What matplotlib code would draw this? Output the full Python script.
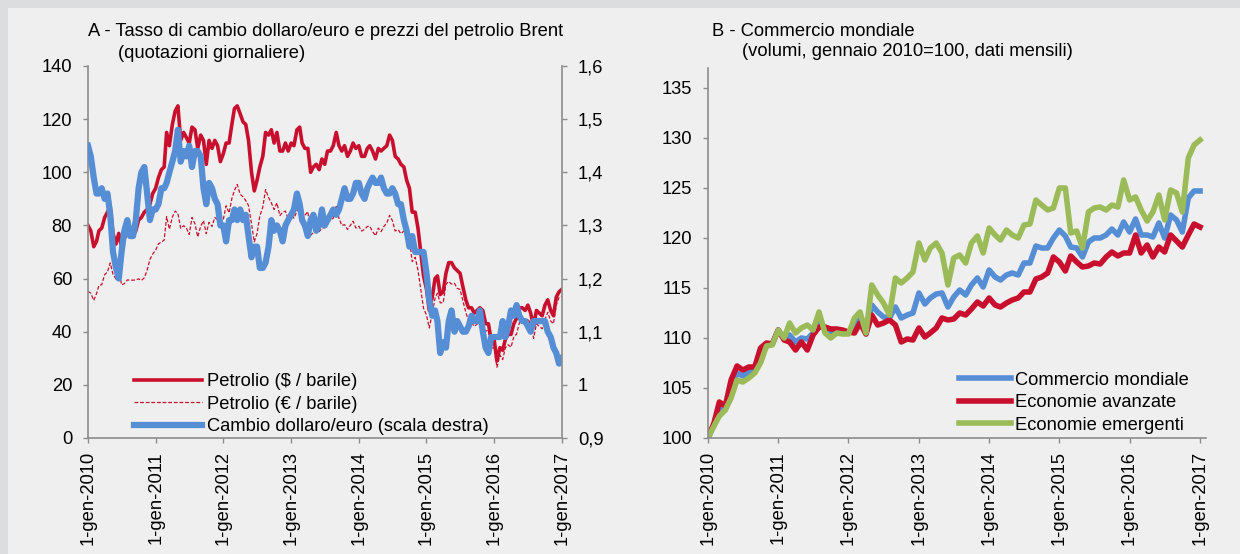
import matplotlib
matplotlib.use('Agg')
import matplotlib.pyplot as plt
from matplotlib.patches import Rectangle
import pandas as pd

plt.rcParams['font.family'] = ['Liberation Sans', 'DejaVu Sans']
plt.rcParams['font.size'] = 13.2

# ---- Panel A: Brent and EUR/USD, sampled on the 1st and 16th of each month ----
brent_usd = [
    80, 78, 72, 74, 78, 79, 83, 85, 87, 77, 73, 77, 72, 75, 78, 76, 76, 78, 82, 83, 85, 86, 88, 92,
    94, 98, 101, 102, 115, 110, 118, 123, 125, 112, 115, 113, 111, 117, 116, 109, 114, 112, 103, 112, 109, 112, 110, 104,
    107, 111, 111, 118, 124, 125, 122, 119, 118, 112, 100, 93, 97, 102, 106, 115, 114, 116, 111, 115, 108, 108, 111, 108,
    111, 110, 116, 117, 111, 109, 109, 100, 102, 103, 101, 105, 103, 108, 108, 110, 115, 110, 108, 110, 106, 108, 111, 109,
    110, 106, 106, 109, 110, 108, 105, 109, 108, 109, 110, 114, 112, 106, 105, 103, 102, 97, 94, 85, 85, 79, 70, 61,
    56, 48, 53, 60, 61, 54, 55, 62, 66, 66, 64, 63, 62, 57, 52, 49, 49, 47, 48, 49, 48, 43, 43, 37,
    37, 29, 34, 33, 37, 39, 39, 43, 45, 49, 49, 48, 50, 47, 42, 48, 47, 46, 50, 52, 48, 46, 53, 55,
    56,
]
brent_eur = [
    55.2, 54.5, 51.8, 54.4, 57.4, 57.7, 61.5, 62.5, 65.9, 61.6, 59.8, 64.2, 57.6, 58.1, 59.5, 59.4, 59.4, 59.5, 59.9, 59.3, 60.3, 63.2, 67.2, 69.2,
    70.7, 73.1, 73.7, 74.5, 83.3, 78.6, 83.1, 85.4, 84.5, 78.9, 79.9, 79.0, 76.6, 83.0, 80.6, 75.7, 79.7, 81.8, 76.9, 81.2, 79.6, 83.0, 82.1, 80.0,
    82.3, 87.4, 84.7, 90.1, 93.2, 95.4, 91.7, 90.8, 89.4, 87.5, 80.6, 73.8, 77.0, 83.6, 86.9, 93.5, 90.5, 88.5, 86.0, 88.5, 83.7, 85.0, 85.4, 82.4,
    84.1, 82.7, 85.3, 87.3, 84.7, 83.8, 85.2, 76.3, 77.3, 79.8, 77.7, 78.9, 79.2, 82.4, 81.8, 82.7, 87.1, 82.7, 80.0, 80.3, 78.5, 80.0, 81.6, 79.0,
    79.7, 77.9, 78.5, 79.6, 79.7, 77.7, 76.1, 79.0, 77.7, 79.6, 80.9, 83.8, 81.8, 77.9, 78.4, 76.9, 77.9, 75.2, 74.6, 66.4, 68.0, 63.2, 56.0, 48.8,
    46.3, 41.4, 46.9, 52.6, 54.5, 50.9, 50.9, 57.9, 58.9, 57.9, 58.2, 56.3, 55.9, 51.8, 47.3, 44.1, 43.4, 42.0, 42.9, 43.0, 43.6, 40.2, 40.6, 33.9,
    33.9, 26.6, 31.2, 29.5, 33.9, 35.1, 34.2, 38.1, 39.1, 43.4, 43.8, 42.9, 45.0, 42.7, 37.5, 42.9, 42.0, 41.1, 44.6, 47.3, 44.0, 43.0, 50.0, 52.9,
    53.3,
]
eur_usd = [
    1.45, 1.43, 1.39, 1.36, 1.36, 1.37, 1.35, 1.36, 1.32, 1.25, 1.22, 1.20, 1.25, 1.29, 1.31, 1.28, 1.28, 1.31, 1.37, 1.40, 1.41, 1.36, 1.31, 1.33,
    1.33, 1.34, 1.37, 1.37, 1.38, 1.40, 1.42, 1.44, 1.48, 1.42, 1.44, 1.43, 1.45, 1.41, 1.44, 1.44, 1.43, 1.37, 1.34, 1.38, 1.37, 1.35, 1.34, 1.30,
    1.30, 1.27, 1.31, 1.31, 1.33, 1.31, 1.33, 1.31, 1.32, 1.28, 1.24, 1.26, 1.26, 1.22, 1.22, 1.23, 1.26, 1.31, 1.29, 1.30, 1.29, 1.27, 1.30, 1.31,
    1.32, 1.33, 1.36, 1.34, 1.31, 1.30, 1.28, 1.31, 1.32, 1.29, 1.30, 1.33, 1.30, 1.31, 1.32, 1.33, 1.32, 1.33, 1.35, 1.37, 1.35, 1.35, 1.36, 1.38,
    1.38, 1.36, 1.35, 1.37, 1.38, 1.39, 1.38, 1.38, 1.39, 1.37, 1.36, 1.36, 1.37, 1.36, 1.34, 1.34, 1.31, 1.29, 1.26, 1.28, 1.25, 1.25, 1.25, 1.25,
    1.21, 1.16, 1.13, 1.14, 1.12, 1.06, 1.08, 1.07, 1.12, 1.14, 1.10, 1.12, 1.11, 1.10, 1.10, 1.11, 1.13, 1.12, 1.12, 1.14, 1.10, 1.07, 1.06, 1.09,
    1.09, 1.09, 1.09, 1.12, 1.09, 1.11, 1.14, 1.13, 1.15, 1.13, 1.12, 1.12, 1.11, 1.10, 1.12, 1.12, 1.12, 1.12, 1.12, 1.10, 1.09, 1.07, 1.06, 1.04,
    1.05,
]
dates_a = [pd.Timestamp(y, m, d) for y in range(2010, 2017) for m in range(1, 13) for d in (1, 16)]
dates_a.append(pd.Timestamp(2017, 1, 1))

# ---- Panel B: world trade volumes, monthly, Jan 2010 = 100 ----
world_trade = [
    100, 101.3, 103.0, 102.9, 105.0, 106.5, 106.2, 106.6, 106.8, 108.5, 109.4, 109.4,
    110.8, 109.9, 110.3, 109.6, 110.0, 109.9, 110.5, 111.5, 110.9, 110.6, 110.8, 110.7,
    110.5, 111.2, 111.9, 110.4, 113.3, 112.6, 112.1, 112.0, 113.1, 112.0, 112.3, 112.5,
    114.5, 113.4, 114.0, 114.4, 114.5, 113.1, 114.1, 114.8, 114.3, 115.3, 116.0, 115.1,
    116.8, 116.1, 115.8, 116.3, 116.5, 116.3, 117.5, 117.5, 119.2, 119.0, 119.0, 120.0,
    120.8, 120.2, 119.1, 119.0, 118.1, 119.6, 120.0, 120.0, 120.3, 120.9, 120.3, 121.6,
    120.6, 121.9, 120.3, 120.3, 120.1, 121.5, 120.0, 122.3, 121.8, 120.6, 124.0, 124.7,
    124.7,
]
advanced = [
    100, 101.5, 103.6, 103.2, 105.8, 107.2, 106.8, 107.1, 107.1, 109.0, 109.5, 109.4,
    110.8, 109.8, 109.6, 108.8, 109.6, 108.8, 110.3, 111.1, 111.1, 110.9, 110.9, 110.8,
    110.6, 110.5, 111.5, 110.4, 112.3, 111.3, 111.5, 111.8, 111.3, 109.6, 109.9, 109.8,
    111.0, 110.1, 110.5, 111.0, 112.0, 111.8, 111.9, 112.5, 112.3, 112.9, 113.6, 113.2,
    114.0, 113.3, 113.1, 113.5, 113.8, 114.0, 114.6, 114.6, 115.9, 116.1, 116.5, 118.1,
    117.6, 116.7, 118.2, 117.6, 117.1, 117.2, 117.5, 117.4, 118.1, 118.6, 118.2, 118.5,
    118.5, 120.3, 118.5, 119.3, 118.1, 119.1, 118.6, 120.3, 119.7, 119.1, 120.3, 121.4,
    121.1,
]
emerging = [
    100, 101.2, 102.2, 102.8, 104.0, 105.8, 105.6, 106.0, 106.5, 107.5, 109.2, 109.3,
    110.8, 110.0, 111.5, 110.5, 111.0, 111.3, 110.8, 112.6, 110.5, 110.0, 110.5, 110.4,
    110.4, 112.0, 112.6, 110.5, 115.3, 114.3, 113.5, 112.3, 116.0, 115.5, 116.0, 116.6,
    119.5, 117.8, 119.0, 119.5, 118.5, 115.3, 118.0, 118.3, 117.5, 119.5, 120.2, 118.5,
    121.0, 120.3, 119.8, 120.8, 120.3, 120.0, 121.3, 121.4, 123.8, 123.3, 122.8, 123.0,
    125.0, 125.0, 120.5, 120.7, 119.0, 122.6, 123.0, 123.1, 122.8, 123.3, 123.1, 125.8,
    123.8, 124.1, 122.8, 121.7, 122.6, 124.3, 121.8, 124.8, 124.5, 122.6, 128.0, 129.3,
    129.8,
]
dates_b = pd.date_range('2010-01-01', periods=len(world_trade), freq='MS')

year_ticks = [pd.Timestamp(y, 1, 1) for y in range(2010, 2018)]
year_labels = ['1-gen-%d' % y for y in range(2010, 2018)]
right_ticks = [0.9, 1.0, 1.1, 1.2, 1.3, 1.4, 1.5, 1.6]
right_labels = ['0,9', '1', '1,1', '1,2', '1,3', '1,4', '1,5', '1,6']

RED = '#C8102E'
BLUE = '#558ED5'
GREEN = '#9BBB59'
AXIS = '#8C8C8C'

fig = plt.figure(figsize=(12.4, 5.54), dpi=100, facecolor='#EFEFEF')
fig.patches.append(Rectangle((0, 1 - 8 / 554), 1, 8 / 554, transform=fig.transFigure,
                             facecolor='#DCDDDF', edgecolor='none', zorder=0))
fig.patches.append(Rectangle((0, 0), 8 / 1240, 1, transform=fig.transFigure,
                             facecolor='#DCDDDF', edgecolor='none', zorder=0))


def style(ax):
    ax.set_facecolor('none')
    for s in ['top', 'right']:
        ax.spines[s].set_visible(False)
    for s in ['left', 'bottom']:
        ax.spines[s].set_color(AXIS)
        ax.spines[s].set_linewidth(1.2)
    ax.tick_params(axis='both', colors=AXIS, labelcolor='black', length=3.5, width=1)
    ax.tick_params(axis='y', pad=8)
    ax.tick_params(axis='x', pad=6)
    ax.set_xticks(year_ticks)
    ax.set_xticklabels(year_labels, rotation=90)


# Panel A
axA = fig.add_axes([88 / 1240, 1 - 438 / 554, 474 / 1240, 372 / 554])
style(axA)
axA.plot(dates_a, brent_eur, color=RED, lw=0.9, ls=(0, (3, 1.5)), label='Petrolio (€ / barile)')
axA.plot(dates_a, brent_usd, color=RED, lw=2.6, label='Petrolio ($ / barile)')
axA.set_ylim(0, 140)
axA.set_yticks(range(0, 141, 20))
axA.set_xlim(pd.Timestamp(2010, 1, 1), pd.Timestamp(2017, 1, 1))

axA2 = axA.twinx()
axA2.set_facecolor('none')
axA2.plot(dates_a, eur_usd, color=BLUE, lw=4.5, label='Cambio dollaro/euro (scala destra)')
axA2.set_ylim(0.9, 1.6)
axA2.set_yticks(right_ticks)
axA2.set_yticklabels(right_labels)
for s in ['top', 'left', 'bottom']:
    axA2.spines[s].set_visible(False)
axA2.spines['right'].set_color(AXIS)
axA2.spines['right'].set_linewidth(1.2)
axA2.tick_params(axis='y', colors=AXIS, labelcolor='black', length=3.5, width=1, pad=8)
axA2.set_xlim(pd.Timestamp(2010, 1, 1), pd.Timestamp(2017, 1, 1))

hA = axA.get_lines()
handles = [hA[1], hA[0], axA2.get_lines()[0]]
axA2.legend(handles=handles, labels=[h.get_label() for h in handles],
            loc='lower left', bbox_to_anchor=(0.097, 0.008), frameon=False,
            borderpad=0, borderaxespad=0, handlelength=3.7, handletextpad=0.3,
            labelspacing=0.3)

fig.text(88 / 1240, 1 - 32 / 554, 'A - Tasso di cambio dollaro/euro e prezzi del petrolio Brent',
         ha='left', va='center')
fig.text(118 / 1240, 1 - 53 / 554, '(quotazioni giornaliere)', ha='left', va='center')

# Panel B
axB = fig.add_axes([708 / 1240, 1 - 438 / 554, 498 / 1240, 370 / 554])
style(axB)
axB.plot(dates_b, world_trade, color=BLUE, lw=4, label='Commercio mondiale')
axB.plot(dates_b, advanced, color=RED, lw=4, label='Economie avanzate')
axB.plot(dates_b, emerging, color=GREEN, lw=4, label='Economie emergenti')
axB.set_ylim(100, 137)
axB.set_yticks(range(100, 136, 5))
axB.set_xlim(pd.Timestamp(2010, 1, 1), pd.Timestamp(2017, 2, 1))
axB.legend(loc='lower left', bbox_to_anchor=(0.504, 0.012), frameon=False,
           borderpad=0, borderaxespad=0, handlelength=2.85, handletextpad=0.2,
           labelspacing=0.3)

fig.text(712 / 1240, 1 - 31 / 554, 'B - Commercio mondiale', ha='left', va='center')
fig.text(742 / 1240, 1 - 52 / 554, '(volumi, gennaio 2010=100, dati mensili)', ha='left', va='center')

fig.savefig('out.png', dpi=100, facecolor=fig.get_facecolor())
